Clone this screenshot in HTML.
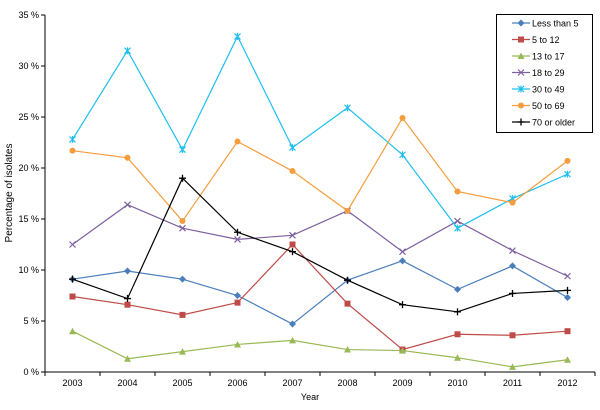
<!DOCTYPE html>
<html><head><meta charset="utf-8"><style>
body{margin:0;background:#fff;}
svg{display:block;font-family:"Liberation Sans",sans-serif;}
</style></head><body>
<svg id="c" width="600" height="410"></svg>
<script>
const years=["2003","2004","2005","2006","2007","2008","2009","2010","2011","2012"];
const yTicks=[0,5,10,15,20,25,30,35];
const names=["Less than 5","5 to 12","13 to 17","18 to 29","30 to 49","50 to 69","70 or older"];
const sLess5=[9.1,9.9,9.1,7.5,4.7,9.0,10.9,8.1,10.4,7.3];
const s5to12=[7.4,6.6,5.6,6.8,12.5,6.7,2.2,3.7,3.6,4.0];
const s13to17=[4.0,1.3,2.0,2.7,3.1,2.2,2.1,1.4,0.5,1.2];
const s18to29=[12.5,16.4,14.1,13.0,13.4,15.8,11.8,14.8,11.9,9.4];
const s30to49=[22.8,31.5,21.8,32.9,22.0,25.9,21.3,14.1,17.0,19.4];
const s50to69=[21.7,21.0,14.8,22.6,19.7,15.8,24.9,17.7,16.6,20.7];
const s70plus=[9.1,7.2,19.0,13.7,11.8,9.0,6.6,5.9,7.7,8.0];
const series=[sLess5,s5to12,s13to17,s18to29,s30to49,s50to69,s70plus];
const colors=["#4a7ebb","#be4b48","#98b954","#7d60a0","#1ebfee","#f59d3d","#000000"];
const markers=["diamond","square","triangle","x","star","circle","plus"];
const NS="http://www.w3.org/2000/svg";
const svg=document.getElementById("c");
const X0=45,X1=595,Y0=372,Y1=15;
const x=i=>X0+(X1-X0)/years.length*(i+0.5);
const y=v=>Y0-(Y0-Y1)*v/35;
function el(t,a,p){const e=document.createElementNS(NS,t);for(const k in a)e.setAttribute(k,a[k]);(p||svg).appendChild(e);return e;}
const axes=el("g",{});


el("line",{x1:X0,y1:Y1,x2:X0,y2:Y0,stroke:"#000"},axes);
el("line",{x1:X0,y1:Y0,x2:X1,y2:Y0,stroke:"#000"},axes);
yTicks.forEach(t=>{
  el("line",{x1:X0-4,y1:y(t),x2:X0,y2:y(t),stroke:"#000"},axes);
  const tx=el("text",{x:X0-6,y:y(t)+3,"text-anchor":"end","font-size":"9"},axes);tx.textContent=t+" %";
  
  
});
for(let i=0;i<=years.length;i++){const xx=X0+(X1-X0)/years.length*i;el("line",{x1:xx,y1:Y0,x2:xx,y2:Y0+4,stroke:"#000"},axes);}
years.forEach((yr,i)=>{const tx=el("text",{x:x(i),y:Y0+14,"text-anchor":"middle","font-size":"9"},axes);tx.textContent=yr;
  
  });
const xt=el("text",{x:310,y:400,"text-anchor":"middle","font-size":"9"});xt.textContent="Year";


const yt=el("text",{x:12,y:193,"text-anchor":"middle","font-size":"10",transform:"rotate(-90 12 193)"});yt.textContent="Percentage of isolates";


function marker(m,cx,cy,c,g){
  if(m==="diamond")el("polygon",{points:`${cx},${cy-3.5} ${cx+3.5},${cy} ${cx},${cy+3.5} ${cx-3.5},${cy}`,fill:c},g);
  else if(m==="square")el("rect",{x:cx-3,y:cy-3,width:6,height:6,fill:c},g);
  else if(m==="triangle")el("polygon",{points:`${cx},${cy-3.5} ${cx+3.5},${cy+3} ${cx-3.5},${cy+3}`,fill:c},g);
  else if(m==="circle")el("circle",{cx:cx,cy:cy,r:3,fill:c},g);
  else if(m==="x"){el("path",{d:`M${cx-3} ${cy-3}L${cx+3} ${cy+3}M${cx+3} ${cy-3}L${cx-3} ${cy+3}`,stroke:c,"stroke-width":1.2},g);}
  else if(m==="star"){el("path",{d:`M${cx-3} ${cy-3}L${cx+3} ${cy+3}M${cx+3} ${cy-3}L${cx-3} ${cy+3}M${cx} ${cy-3.5}L${cx} ${cy+3.5}`,stroke:c,"stroke-width":1.2},g);}
  else if(m==="plus"){el("path",{d:`M${cx-3.5} ${cy}L${cx+3.5} ${cy}M${cx} ${cy-3.5}L${cx} ${cy+3.5}`,stroke:c,"stroke-width":1.3},g);}
}
series.forEach((s,k)=>{
  const g=el("g",{});
  
  
  el("polyline",{points:s.map((v,i)=>x(i)+","+y(v)).join(" "),fill:"none",stroke:colors[k],"stroke-width":1.2},g);
  s.forEach((v,i)=>marker(markers[k],x(i),y(v),colors[k],g));
});
const lg=el("g",{});


el("rect",{x:496.5,y:14.5,width:96,height:118,fill:"#fff",stroke:"#000"},lg);
names.forEach((n,k)=>{
  const yy=23+k*16.5;
  const e=el("g",{},lg);
  
  
  el("line",{x1:512,y1:yy,x2:530,y2:yy,stroke:colors[k],"stroke-width":1.2},e);
  marker(markers[k],521,yy,colors[k],e);
  const t=el("text",{x:532,y:yy+3.5,"font-size":"9"},e);t.textContent=n;
});
</script>
</body></html>
